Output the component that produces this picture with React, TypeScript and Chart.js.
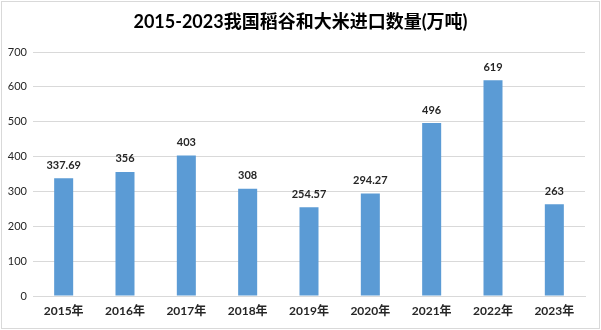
import React, { useEffect, useRef } from "react";
import { Chart, registerables } from "chart.js";

Chart.register(...registerables);

const TITLE = "2015-2023我国稻谷和大米进口数量(万吨)";
const categories = ["2015年", "2016年", "2017年", "2018年", "2019年", "2020年", "2021年", "2022年", "2023年"];
const values = [337.69, 356, 403, 308, 254.57, 294.27, 496, 619, 263];
const valueLabels = ["337.69", "356", "403", "308", "254.57", "294.27", "496", "619", "263"];
const yTicks = [0, 100, 200, 300, 400, 500, 600, 700];

const FONT = "Lato, 'Noto Sans CJK SC', sans-serif";

const decorPlugin = {
  id: "decor",
  beforeDraw(chart: any) {
    const { ctx, width, height } = chart;
    ctx.save();
    ctx.fillStyle = "#ffffff";
    ctx.fillRect(0, 0, width, height);
    ctx.strokeStyle = "#d9d9d9";
    ctx.lineWidth = 1;
    ctx.strokeRect(1.5, 1.5, width - 3, height - 3);
    ctx.restore();
  },
  afterDatasetsDraw(chart: any) {
    const { ctx } = chart;
    ctx.save();
    ctx.fillStyle = "#000000";
    ctx.font = `bold 18px ${FONT}`;
    ctx.textAlign = "center";
    ctx.textBaseline = "middle";
    ctx.fillText(TITLE, chart.width / 2, 22);
    const meta = chart.getDatasetMeta(0);
    ctx.font = `bold 11px ${FONT}`;
    ctx.fillStyle = "#262626";
    meta.data.forEach((bar: any, i: number) => {
      ctx.fillText(valueLabels[i], bar.x, bar.y - 13);
    });
    ctx.restore();
  },
};

export default function App() {
  const ref = useRef<HTMLCanvasElement>(null);
  useEffect(() => {
    document.body.style.margin = "0";
    const chart = new Chart(ref.current!, {
      type: "bar",
      data: {
        labels: categories,
        datasets: [
          {
            data: values,
            backgroundColor: "#5B9BD5",
            barPercentage: 0.31,
            categoryPercentage: 1,
          },
        ],
      },
      options: {
        animation: false,
        responsive: false,
        devicePixelRatio: 1,
        layout: { padding: { left: 0, right: 16, top: 52, bottom: 0 } },
        plugins: { legend: { display: false }, title: { display: false }, tooltip: { enabled: false } },
        scales: {
          x: {
            grid: { display: false, drawTicks: false },
            border: { display: true, color: "#d9d9d9" },
            ticks: { color: "#262626", font: { family: FONT, size: 12, weight: "bold" }, padding: 8 },
            afterFit: (s: any) => { s.height = 34; },
          },
          y: {
            min: 0,
            max: 700,
            afterBuildTicks: (s: any) => { s.ticks = yTicks.map((v) => ({ value: v })); },
            grid: { color: "#d9d9d9", drawTicks: false },
            border: { display: false },
            ticks: { color: "#262626", font: { family: FONT, size: 11 }, padding: 6 },
            afterFit: (s: any) => { s.width = 33; },
          },
        },
      },
      plugins: [decorPlugin],
    });
    return () => chart.destroy();
  }, []);
  return (
    <div style={{ width: 601, height: 330 }}>
      <canvas ref={ref} width={601} height={330} style={{ display: "block" }} />
    </div>
  );
}
